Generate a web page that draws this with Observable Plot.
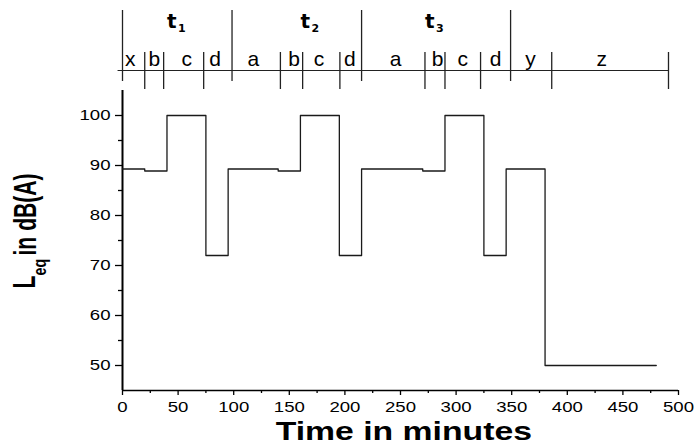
<!DOCTYPE html>
<html>
<head>
<meta charset="utf-8">
<script src="https://cdn.jsdelivr.net/npm/d3@7"></script>
<script src="https://cdn.jsdelivr.net/npm/@observablehq/plot@0.6"></script>
<style>
  html, body { margin: 0; padding: 0; background: #fff; }
</style>
</head>
<body>
<div id="chart"></div>
<script>
// Step series: time (min) where each level starts, and Leq level in dB(A)
const stepTimes  = [0, 20, 40, 75, 95, 140, 160, 195, 215, 270, 290, 325, 345, 380, 480];
const stepLevels = [89.3, 88.9, 100, 72, 89.3, 88.9, 100, 72, 89.3, 88.9, 100, 72, 89.3, 50, 50];

// Axis ticks
const xMajorTicks = [0, 50, 100, 150, 200, 250, 300, 350, 400, 450, 500];
const xMinorTicks = [25, 75, 125, 175, 225, 275, 325, 375, 425, 475];
const yMajorTicks = [50, 60, 70, 80, 90, 100];
const yMinorTicks = [55, 65, 75, 85, 95];

// Top annotation: period boundaries (t1, t2, t3 and after), phase boundaries, labels (minutes)
const periodBounds = [0, 98.5, 215, 349];
const phaseBounds = [20, 37, 73, 142, 162, 195.5, 272, 290, 322, 386, 491];
const phaseLabels = ["x", "b", "c", "d", "a", "b", "c", "d", "a", "b", "c", "d", "y", "z"];
const phaseLabelX = [7, 28.6, 57.8, 83.3, 117.7, 154.2, 176.7, 204.5, 245.6, 283.4, 306, 335.6, 366.9, 431];
const periodSubscripts = ["1", "2", "3"];
const periodLabelX = [40, 160, 272];
const annotationSpan = [-4, 491];

// Titles
const xTitle = "Time in minutes";
const yTitleMain = "L";
const yTitleSub = "eq";
const yTitleRest = "in dB(A)";

const steps = stepTimes.map((t, i) => ({t, v: stepLevels[i]}));

const chart = Plot.plot({
  width: 699,
  height: 445,
  marginLeft: 122,
  marginRight: 21,
  marginTop: 90,
  marginBottom: 55,
  x: {domain: [0, 500]},
  y: {domain: [45, 105]},
  style: {fontFamily: "Liberation Sans", background: "white", color: "black", overflow: "visible"},
  marks: [
    Plot.ruleX([0], {stroke: "black", strokeWidth: 2}),
    Plot.ruleY([45], {stroke: "black", strokeWidth: 1.6}),
    Plot.axisX({ticks: xMajorTicks, tickSize: 5, tickPadding: 5, fontSize: 15.5, label: null, stroke: "black", strokeWidth: 1.3}),
    Plot.axisX({ticks: xMinorTicks, tickSize: 3, tickFormat: () => "", label: null, stroke: "black", strokeWidth: 1.3}),
    Plot.axisY({ticks: yMajorTicks, tickSize: 7, tickPadding: 5, fontSize: 15.5, label: null, stroke: "black", strokeWidth: 1.3}),
    Plot.axisY({ticks: yMinorTicks, tickSize: 4, tickFormat: () => "", label: null, stroke: "black", strokeWidth: 1.3}),

    Plot.line(steps, {x: "t", y: "v", curve: "step-after", stroke: "#1a1a1a", strokeWidth: 1.3}),

    // Top annotation
    Plot.ruleY([109], {x1: annotationSpan[0], x2: annotationSpan[1], stroke: "#222", strokeWidth: 1.2}),
    Plot.ruleX(periodBounds, {y1: 106.8, y2: 121, stroke: "#222", strokeWidth: 1.3}),
    Plot.ruleX(phaseBounds, {y1: 105.2, y2: 112.6, stroke: "#222", strokeWidth: 1.3}),
    Plot.text(phaseLabels, {x: (d, i) => phaseLabelX[i], y: 110, text: d => d, lineAnchor: "bottom",
      fontFamily: "Liberation Sans", fontSize: 21, fill: "black"}),
    Plot.text(periodSubscripts, {x: (d, i) => periodLabelX[i], y: 117.6, text: () => "t", textAnchor: "start",
      lineAnchor: "bottom", fontFamily: "DejaVu Sans", fontWeight: "bold", fontSize: 20, fill: "black"}),
    Plot.text(periodSubscripts, {x: (d, i) => periodLabelX[i], y: 117.6, dx: 11, dy: 4, text: d => d, textAnchor: "start",
      lineAnchor: "bottom", fontFamily: "DejaVu Sans", fontWeight: "bold", fontSize: 11, fill: "black"}),

    // Y axis title: L_eq in dB(A)
    Plot.text([yTitleMain], {x: 0, y: 75, dx: -88, dy: 48, rotate: -90, textAnchor: "start", lineAnchor: "bottom",
      fontFamily: "Liberation Sans", fontWeight: "bold", fontSize: 32, fill: "black"}),
    Plot.text([yTitleSub], {x: 0, y: 75, dx: -77, dy: 35, rotate: -90, textAnchor: "start", lineAnchor: "bottom",
      fontFamily: "Liberation Sans", fontWeight: "bold", fontSize: 19, fill: "black"}),
    Plot.text([yTitleRest], {x: 0, y: 75, dx: -87, dy: 15, rotate: -90, textAnchor: "start", lineAnchor: "bottom",
      fontFamily: "Liberation Sans", fontWeight: "bold", fontSize: 32, fill: "black"}),

    // X axis title
    Plot.text([xTitle], {x: 253, y: 35.2, lineAnchor: "bottom",
      fontFamily: "Liberation Sans", fontWeight: "bold", fontSize: 25, fill: "black"})
  ]
});

// Glyph proportions of the original figure (wide horizontal type, compressed rotated type)
function addScale(sel, sx) {
  sel.each(function () {
    const t = this.getAttribute("transform") || "";
    this.setAttribute("transform", (t + ` scale(${sx},1)`).trim());
  });
}
const svg = d3.select(chart);
const textIs = s => function () { return this.textContent === s; };
addScale(svg.selectAll('g[aria-label="x-axis tick label"] text'), 1.2);
addScale(svg.selectAll('g[aria-label="y-axis tick label"] text'), 1.2);
addScale(svg.selectAll("text").filter(textIs(yTitleMain)), 0.66);
addScale(svg.selectAll("text").filter(textIs(yTitleRest)), 0.66);
addScale(svg.selectAll("text").filter(textIs(yTitleSub)), 0.75);
addScale(svg.selectAll("text").filter(textIs(xTitle)), 1.35);

document.getElementById("chart").appendChild(chart);
</script>
</body>
</html>
